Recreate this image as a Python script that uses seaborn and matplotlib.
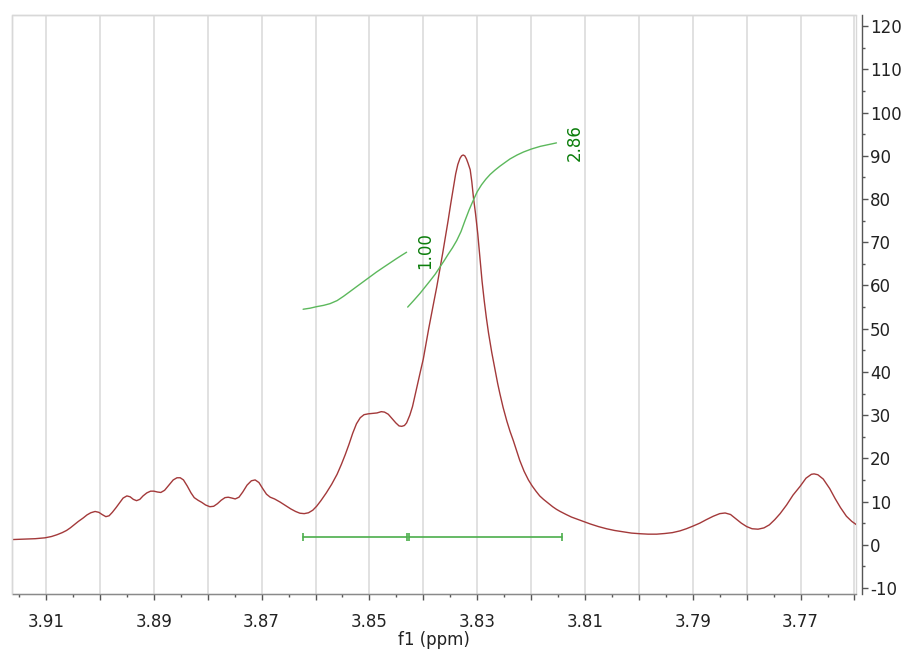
import numpy as np
import pandas as pd
import matplotlib
matplotlib.use("Agg")
import matplotlib.pyplot as plt
import seaborn as sns
from matplotlib.ticker import MultipleLocator, FuncFormatter
from matplotlib.patches import Rectangle

# ---------------- data ----------------
spec_ppm = [3.9162, 3.9140, 3.9120, 3.9102, 3.9090, 3.9080, 3.9070, 3.9062, 3.9055, 3.9048,
            3.9040, 3.9031, 3.9024, 3.9017, 3.9009, 3.9002, 3.8996, 3.8989, 3.8983, 3.8977,
            3.8970, 3.8963, 3.8957, 3.8950, 3.8944, 3.8938, 3.8932, 3.8926, 3.8920, 3.8913,
            3.8906, 3.8900, 3.8893, 3.8887, 3.8880, 3.8872, 3.8864, 3.8857, 3.8851, 3.8845,
            3.8838, 3.8831, 3.8825, 3.8818, 3.8811, 3.8804, 3.8796, 3.8789, 3.8782, 3.8775,
            3.8768, 3.8762, 3.8755, 3.8749, 3.8742, 3.8735, 3.8727, 3.8719, 3.8712, 3.8705,
            3.8698, 3.8691, 3.8684, 3.8676, 3.8666, 3.8656, 3.8646, 3.8637, 3.8629, 3.8621,
            3.8613, 3.8605, 3.8598, 3.8590, 3.8580, 3.8570, 3.8560, 3.8552, 3.8545, 3.8538,
            3.8531, 3.8524, 3.8517, 3.8510, 3.8502, 3.8494, 3.8486, 3.8478, 3.8472, 3.8465,
            3.8458, 3.8451, 3.8445, 3.8440, 3.8435, 3.8431, 3.8425, 3.8420, 3.8415, 3.8410,
            3.8405, 3.8400, 3.8395, 3.8390, 3.8385, 3.8380, 3.8375, 3.8369, 3.8364, 3.8359,
            3.8354, 3.8349, 3.8344, 3.8340, 3.8336, 3.8332, 3.8329, 3.8326, 3.8323, 3.8320,
            3.8317, 3.8313, 3.8310, 3.8307, 3.8303, 3.8299, 3.8295, 3.8291, 3.8287, 3.8283,
            3.8279, 3.8273, 3.8267, 3.8262, 3.8258, 3.8252, 3.8245, 3.8239, 3.8233, 3.8227,
            3.8221, 3.8213, 3.8205, 3.8198, 3.8191, 3.8184, 3.8177, 3.8168, 3.8160, 3.8153,
            3.8146, 3.8135, 3.8125, 3.8114, 3.8103, 3.8090, 3.8075, 3.8060, 3.8045, 3.8030,
            3.8014, 3.7998, 3.7983, 3.7967, 3.7952, 3.7938, 3.7924, 3.7912, 3.7900, 3.7887,
            3.7875, 3.7862, 3.7850, 3.7840, 3.7830, 3.7820, 3.7810, 3.7800, 3.7790, 3.7779,
            3.7768, 3.7758, 3.7748, 3.7738, 3.7726, 3.7714, 3.7701, 3.7690, 3.7680, 3.7675,
            3.7668, 3.7658, 3.7646, 3.7636, 3.7626, 3.7615, 3.7605, 3.7596]
spec_int = [1.2, 1.3, 1.4, 1.6, 1.9, 2.3, 2.8, 3.3, 3.9, 4.6,
            5.4, 6.2, 6.9, 7.4, 7.7, 7.5, 7.0, 6.5, 6.7, 7.5,
            8.6, 9.8, 10.8, 11.3, 11.1, 10.5, 10.2, 10.5, 11.3, 12.0,
            12.4, 12.4, 12.2, 12.1, 12.6, 13.8, 15.0, 15.5, 15.5, 15.0,
            13.6, 12.0, 10.9, 10.3, 9.8, 9.2, 8.8, 8.9, 9.5, 10.3,
            10.9, 11.0, 10.8, 10.6, 11.0, 12.2, 13.8, 14.8, 15.0, 14.4,
            13.0, 11.7, 11.0, 10.6, 9.9, 9.1, 8.3, 7.7, 7.3, 7.2,
            7.4, 8.0, 8.9, 10.2, 12.0, 14.0, 16.3, 18.6, 20.8, 23.2,
            25.8, 28.0, 29.4, 30.1, 30.3, 30.4, 30.5, 30.8, 30.7, 30.2,
            29.2, 28.2, 27.5, 27.4, 27.6, 28.2, 30.0, 32.0, 34.8, 37.5,
            40.3, 43.0, 46.5, 50.0, 53.3, 56.5, 59.7, 63.9, 67.5, 71.2,
            75.0, 79.0, 82.7, 85.8, 88.0, 89.4, 90.0, 90.2, 90.0, 89.3,
            88.3, 86.8, 84.0, 80.4, 76.5, 72.0, 66.5, 61.0, 56.5, 52.5,
            49.0, 44.5, 40.5, 37.3, 35.0, 31.8, 28.6, 26.2, 24.1, 21.8,
            19.5, 17.0, 15.0, 13.6, 12.4, 11.3, 10.5, 9.6, 8.8, 8.2,
            7.7, 7.0, 6.4, 5.9, 5.4, 4.8, 4.2, 3.7, 3.3, 3.0,
            2.7, 2.55, 2.45, 2.45, 2.6, 2.8, 3.2, 3.7, 4.3, 5.0,
            5.8, 6.6, 7.2, 7.35, 7.0, 6.0, 5.0, 4.2, 3.7, 3.6,
            3.9, 4.6, 5.8, 7.2, 9.2, 11.5, 13.5, 15.4, 16.3, 16.4,
            16.2, 15.2, 13.0, 10.7, 8.6, 6.6, 5.4, 4.6]

integ1_ppm = [3.8623, 3.8610, 3.8598, 3.8585, 3.8573, 3.8560, 3.8548, 3.8536, 3.8523,
              3.8511, 3.8499, 3.8487, 3.8474, 3.8462, 3.8450, 3.8440, 3.8431]
integ1_val = [54.5, 54.75, 55.1, 55.4, 55.8, 56.5, 57.5, 58.6, 59.8,
              60.9, 62.0, 63.1, 64.2, 65.2, 66.2, 67.0, 67.7]

integ2_ppm = [3.8429, 3.8418, 3.8406, 3.8397, 3.8388, 3.8378, 3.8369, 3.8361, 3.8354,
              3.8346, 3.8338, 3.8330, 3.8323, 3.8315, 3.8307, 3.8300, 3.8292, 3.8284,
              3.8276, 3.8267, 3.8258, 3.8248, 3.8239, 3.8226, 3.8214, 3.8199, 3.8183,
              3.8168, 3.8153]
integ2_val = [55.0, 56.5, 58.2, 59.6, 61.0, 62.6, 64.3, 65.8, 67.2,
              68.7, 70.4, 72.5, 74.9, 77.5, 79.8, 81.7, 83.3, 84.6,
              85.7, 86.7, 87.6, 88.5, 89.3, 90.2, 90.9, 91.6, 92.2,
              92.6, 93.0]

integ_labels = ["1.00", "2.86"]
integ_label_ppm = [3.8397, 3.8119]
integ_label_val = [68.1, 93.1]

range_start = [3.8623, 3.8427]
range_end = [3.8430, 3.8143]
range_level = 1.8

x_left, x_right = 3.91622, 3.75972
y_bottom, y_top = -11.4, 122.6

# ---------------- styling ----------------
sns.set_theme(style="white")
plt.rcParams["font.family"] = ["DejaVu Sans"]
plt.rcParams["axes.unicode_minus"] = False

fig = plt.figure(figsize=(9.04, 6.55), dpi=100)
ax = fig.add_axes([12.5 / 904, 61 / 655, (856 - 12.5) / 904, (594 - 15) / 655])

spec_df = pd.DataFrame({"ppm": spec_ppm, "intensity": spec_int})
sns.lineplot(data=spec_df, x="ppm", y="intensity", sort=False, estimator=None,
             color="#a3393a", lw=1.0, ax=ax, solid_joinstyle="round")

i1 = pd.DataFrame({"ppm": integ1_ppm, "val": integ1_val})
i2 = pd.DataFrame({"ppm": integ2_ppm, "val": integ2_val})
for d in (i1, i2):
    sns.lineplot(data=d, x="ppm", y="val", sort=False, estimator=None,
                 color="#5cb85c", lw=1.0, ax=ax, solid_joinstyle="round")

for s, e in zip(range_start, range_end):
    bar_df = pd.DataFrame({"ppm": [s, e], "val": [range_level, range_level]})
    sns.lineplot(data=bar_df, x="ppm", y="val", sort=False, estimator=None,
                 color="#4cae4c", lw=1.2, marker="|", markersize=6,
                 markeredgewidth=1.2, markeredgecolor="#4cae4c", ax=ax)

for lab, px, py in zip(integ_labels, integ_label_ppm, integ_label_val):
    ax.text(px, py, lab, rotation=90, ha="center", va="center",
            color="#0b7d0b", fontsize=12)

ax.set_xlim(x_left, x_right)
ax.set_ylim(y_bottom, y_top)

ax.xaxis.set_major_locator(MultipleLocator(0.01))
ax.xaxis.set_minor_locator(MultipleLocator(0.005))
ax.xaxis.set_major_formatter(FuncFormatter(
    lambda v, p: f"{v:.2f}" if int(round(v * 100)) % 2 == 1 else ""))
ax.yaxis.set_major_locator(MultipleLocator(10))
ax.yaxis.set_minor_locator(MultipleLocator(5))
ax.yaxis.tick_right()

ax.grid(axis="x", which="major", color="#dcdcdc", lw=1.2)
ax.set_axisbelow(True)

ax.tick_params(axis="x", which="major", direction="out", length=4, width=1,
               color="#555555", labelsize=12, pad=10, labelcolor="#222222",
               bottom=True)
ax.tick_params(axis="x", which="minor", direction="out", length=2.5, width=1,
               color="#555555", bottom=True)
ax.tick_params(axis="y", which="major", direction="out", length=4, width=1,
               color="#555555", labelsize=12, pad=2, labelcolor="#222222",
               right=True, left=False)
ax.tick_params(axis="y", which="minor", direction="out", length=2.5, width=1,
               color="#555555", right=True, left=False)

for sp in ("top", "left"):
    ax.spines[sp].set_color("#d8d8d8")
    ax.spines[sp].set_linewidth(1)
ax.spines["bottom"].set_color("#8a8a8a")
ax.spines["bottom"].set_linewidth(1)
ax.spines["right"].set_position(("outward", 4))
ax.spines["right"].set_color("#555555")
ax.spines["right"].set_linewidth(1)
ax.add_patch(Rectangle((0, 0), 1, 1, transform=ax.transAxes, fill=False,
                       ec="#d8d8d8", lw=1, clip_on=False, zorder=0.5))

ax.set_xlabel("f1 (ppm)", fontsize=12, color="#222222", labelpad=0)
ax.set_ylabel("")

fig.savefig("out.png", dpi=100)
